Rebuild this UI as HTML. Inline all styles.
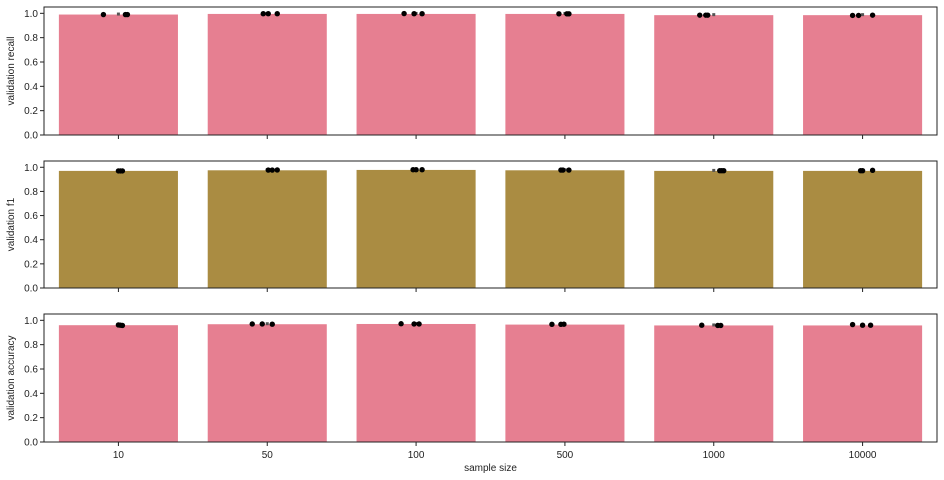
<!DOCTYPE html>
<html><head><meta charset="utf-8"><style>
body{margin:0;background:#fff;}
svg{display:block;font-family:"Liberation Sans",sans-serif;}
</style></head><body>
<svg id="chart" width="944" height="480"></svg>
<script>
const categories=["10","50","100","500","1000","10000"];
const recallMeans=[0.99,0.995,0.995,0.995,0.985,0.985];
const f1Means=[0.97,0.975,0.978,0.975,0.97,0.97];
const accMeans=[0.96,0.968,0.97,0.965,0.958,0.958];
const recallPts=[[0.99,0.99,0.99],[0.997,0.997,0.997],[0.998,0.997,0.997],[0.996,0.996,0.996],[0.985,0.985,0.985],[0.983,0.983,0.985]];
const f1Pts=[[0.97,0.97,0.97],[0.977,0.977,0.978],[0.98,0.98,0.98],[0.977,0.977,0.977],[0.972,0.972,0.972],[0.972,0.972,0.975]];
const accPts=[[0.962,0.96,0.958],[0.97,0.97,0.968],[0.972,0.97,0.97],[0.967,0.967,0.968],[0.96,0.958,0.958],[0.965,0.96,0.96]];
const jitterRecall=[[-15,7,9],[-4,1,10],[-12,-2,6],[-6,2,4],[-14,-8,-6],[-10,-4,10]];
const jitterF1=[[0,2,4],[1,5,10],[-3,0,6],[-4,-2,4],[6,8,10],[-2,0,10]];
const jitterAcc=[[0,2,4],[-15,-5,5],[-15,-2,3],[-13,-4,-1],[-12,4,7],[-10,0,8]];
const yTicks=[0,0.2,0.4,0.6,0.8,1.0];
const panels=[
 {name:"recall",label:"validation recall",means:recallMeans,pts:recallPts,jit:jitterRecall,color:"#e67f91",top:7,bottom:135},
 {name:"f1",label:"validation f1",means:f1Means,pts:f1Pts,jit:jitterF1,color:"#aa8c42",top:161,bottom:288},
 {name:"accuracy",label:"validation accuracy",means:accMeans,pts:accPts,jit:jitterAcc,color:"#e67f91",top:314,bottom:442}
];
const svg=document.getElementById('chart');
const NS="http://www.w3.org/2000/svg";
const L=44,R=937,ymax=1.052;
const step=(R-L)/categories.length;
function xs(i){return L+step*(i+0.5);}
function mk(t,a,parent){const e=document.createElementNS(NS,t);for(const k in a)e.setAttribute(k,a[k]);(parent||svg).appendChild(e);return e;}
panels.forEach((p,pi)=>{
 const g=mk('g',{});
 
 
 const ys=v=>p.bottom-(p.bottom-p.top)*v/ymax;
 p.means.forEach((m,i)=>{
  const b=mk('rect',{x:xs(i)-step*0.4,y:ys(m),width:step*0.8,height:p.bottom-ys(m),fill:p.color},g);
  
  
  const e=mk('rect',{x:xs(i)-1.5,y:ys(m)-2,width:3,height:3,fill:'#555'},g);
  
  
  p.pts[i].forEach((v,j)=>{
   const c=mk('circle',{cx:xs(i)+p.jit[i][j],cy:ys(v),r:2.7,fill:'#000'},g);
   
   
  });
 });
 mk('rect',{x:L,y:p.top,width:R-L,height:p.bottom-p.top,fill:'none',stroke:'#222','stroke-width':1},g);
 yTicks.forEach(t=>{
  const y=ys(t);
  mk('line',{x1:L-4,x2:L,y1:y,y2:y,stroke:'#222'},g);
  const tx=mk('text',{x:L-6,y:y+3.5,'font-size':10,'text-anchor':'end',fill:'#222'},g);
  tx.textContent=t.toFixed(1);
  
  
 });
 categories.forEach((c,i)=>{
  mk('line',{x1:xs(i),x2:xs(i),y1:p.bottom,y2:p.bottom+4,stroke:'#222'},g);
  if(pi===2){
   const tx=mk('text',{x:xs(i),y:p.bottom+16,'font-size':10,'text-anchor':'middle',fill:'#222'},g);
   tx.textContent=c;
   
   
  }
 });
 const cy=(p.top+p.bottom)/2;
 const yl=mk('text',{x:14,y:cy,'font-size':10,'text-anchor':'middle',fill:'#222',transform:`rotate(-90 14 ${cy})`},g);
 yl.textContent=p.label;
 
 
});
const xl=mk('text',{x:(L+R)/2,y:471,'font-size':10,'text-anchor':'middle',fill:'#222'});
xl.textContent='sample size';


</script>
</body></html>
